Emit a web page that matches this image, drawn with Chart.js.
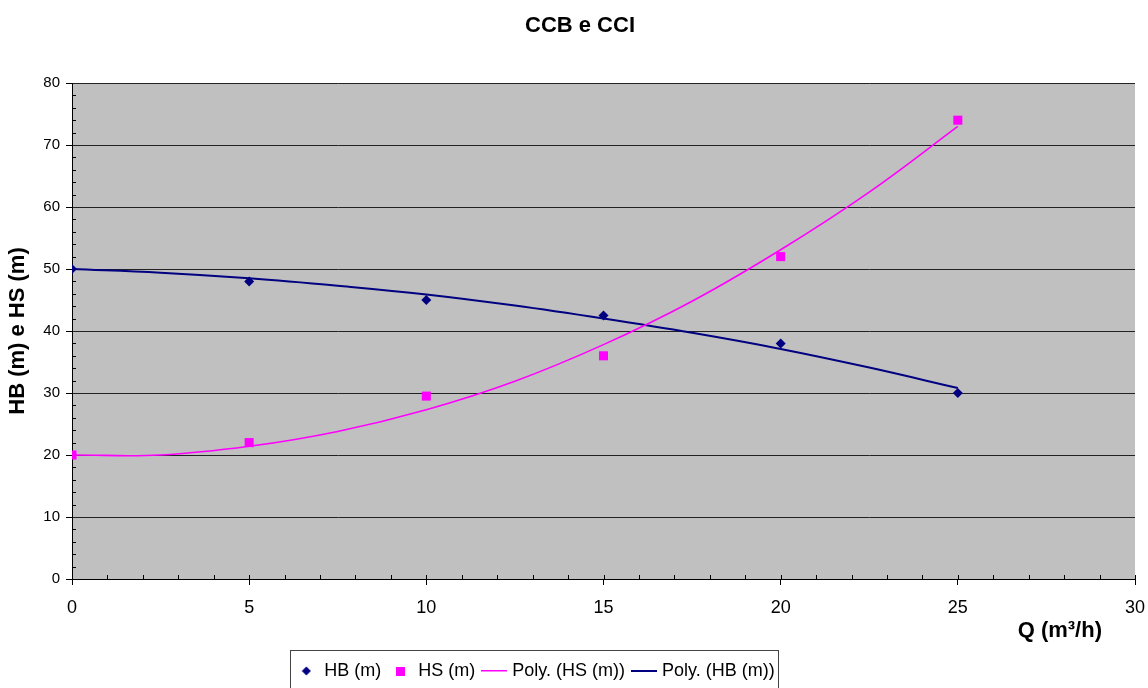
<!DOCTYPE html>
<html><head><meta charset="utf-8">
<script src="https://cdn.jsdelivr.net/npm/chart.js@4.4.1/dist/chart.umd.min.js"></script>
<style>html,body{margin:0;padding:0;background:#fff;}#wrap{width:1148px;height:688px;position:relative;}</style>
</head><body><div id="wrap"><canvas id="c"></canvas></div>
<script>
const chartTitle = 'CCB e CCI';
const xTitle = 'Q (m³/h)';
const yTitle = 'HB (m) e HS (m)';
const seriesNames = ['HB (m)', 'HS (m)', 'Poly. (HS (m))', 'Poly. (HB (m))'];
const flowQ = [0, 5, 10, 15, 20, 25];
const hbValues = [50, 48, 45, 42.5, 38, 30];
const hsValues = [20, 22, 29.5, 36, 52, 74];
const trendQ = [0, 2.5, 5, 7.5, 10, 12.5, 15, 17.5, 20, 22.5, 25];
const hbTrend = [50.0, 49.4, 48.5, 47.3, 45.9, 44.1, 42.0, 39.7, 37.1, 34.1, 30.8];
const hsTrend = [20.0, 20.0, 21.4, 23.8, 27.3, 31.9, 37.8, 44.8, 53.1, 62.4, 73.0];
const xTicks = [0, 5, 10, 15, 20, 25, 30];
const yTicks = [0, 10, 20, 30, 40, 50, 60, 70, 80];

const NAVY = '#000080', MAGENTA = '#FF00FF';
const FONT = "'Liberation Sans', Arial, Helvetica, sans-serif";
Chart.defaults.font.family = FONT;
Chart.defaults.color = '#000';

function icon(w, h, draw) {
  const c = document.createElement('canvas');
  c.width = w; c.height = h;
  draw(c.getContext('2d'));
  return c;
}
const legendIcons = [
  icon(10, 10, g => { g.fillStyle = NAVY; g.beginPath(); g.moveTo(5, 0.5); g.lineTo(9.5, 5); g.lineTo(5, 9.5); g.lineTo(0.5, 5); g.closePath(); g.fill(); }),
  icon(9, 9, g => { g.fillStyle = MAGENTA; g.fillRect(0, 0, 9, 9); }),
  icon(26, 2, g => { g.fillStyle = MAGENTA; g.fillRect(0, 0, 26, 1.5); }),
  icon(26, 2, g => { g.fillStyle = NAVY; g.fillRect(0, 0, 26, 2); })
];

const toPts = (xs, ys) => xs.map((x, i) => ({x: x, y: ys[i]}));

const layoutPlugin = {
  id: 'shiftBoxes',
  afterLayout(chart) {
    const lg = chart.legend;
    if (lg) { lg.left -= 38; lg.right -= 38; lg.top += 2; lg.bottom += 2; }
    const tb = chart.titleBlock;
    if (tb) { tb.left += 6; tb.right += 6; }
  }
};
const bgPlugin = {
  id: 'plotBg',
  beforeDraw(chart) {
    const {ctx, chartArea: a} = chart;
    ctx.save();
    ctx.fillStyle = '#C0C0C0';
    ctx.fillRect(a.left, a.top, a.right - a.left, a.bottom - a.top);
    ctx.restore();
  }
};
const minorPlugin = {
  id: 'minorTicks',
  afterDraw(chart) {
    const {ctx, chartArea: a, scales} = chart;
    ctx.save();
    ctx.strokeStyle = '#000';
    ctx.lineWidth = 1;
    ctx.beginPath();
    for (let v = yTicks[0]; v <= yTicks[yTicks.length - 1]; v += 2) {
      if (v % 10 === 0) continue;
      const p = Math.round(scales.y.getPixelForValue(v)) + 0.5;
      ctx.moveTo(a.left, p); ctx.lineTo(a.left + 4, p);
    }
    for (let v = xTicks[0]; v <= xTicks[xTicks.length - 1]; v += 1) {
      const p = Math.round(scales.x.getPixelForValue(v)) + 0.5;
      ctx.moveTo(p, a.bottom); ctx.lineTo(p, a.bottom - 4);
    }
    ctx.stroke();
    // x axis title, right side under the axis
    ctx.fillStyle = '#000';
    ctx.font = 'bold 22px ' + FONT;
    ctx.textAlign = 'right';
    ctx.textBaseline = 'middle';
    ctx.fillText(xTitle, a.right - 33, a.bottom + 52);
    // legend frame
    const lg = chart.legend;
    if (lg && lg.legendHitBoxes && lg.legendHitBoxes.length) {
      const hb = lg.legendHitBoxes;
      const l = Math.round(hb[0].left - 7) + 0.5;
      const last = hb[hb.length - 1];
      const r = Math.round(last.left + last.width + 3) + 0.5;
      const t = 650.5;
      ctx.strokeStyle = '#444';
      ctx.strokeRect(l, t, r - l, 60);
    }
    ctx.restore();
  }
};

new Chart(document.getElementById('c'), {
  type: 'scatter',
  data: {
    datasets: [
      {label: seriesNames[0], data: toPts(flowQ, hbValues), showLine: false, pointStyle: 'rectRot', pointRadius: 5, borderWidth: 0, backgroundColor: NAVY, borderColor: NAVY},
      {label: seriesNames[1], data: toPts(flowQ, hsValues), showLine: false, pointStyle: 'rect', pointRadius: 6.4, borderWidth: 0, backgroundColor: MAGENTA, borderColor: MAGENTA},
      {label: seriesNames[2], data: toPts(trendQ, hsTrend), showLine: true, pointRadius: 0, borderWidth: 1.6, borderColor: MAGENTA, backgroundColor: MAGENTA, tension: 0.4},
      {label: seriesNames[3], data: toPts(trendQ, hbTrend), showLine: true, pointRadius: 0, borderWidth: 2, borderColor: NAVY, backgroundColor: NAVY, tension: 0.4}
    ]
  },
  options: {
    responsive: true,
    maintainAspectRatio: false,
    animation: false,
    events: [],
    layout: {padding: {left: 0, right: 0, top: 0, bottom: 0}},
    plugins: {
      title: {display: true, text: chartTitle, color: '#000', font: {size: 22, weight: 'bold'}, padding: {top: 13, bottom: 43.6}},
      tooltip: {enabled: false},
      legend: {
        position: 'bottom',
        labels: {
          usePointStyle: true,
          color: '#000',
          font: {size: 18},
          padding: 10,
          generateLabels(chart) {
            const items = Chart.defaults.plugins.legend.labels.generateLabels(chart);
            items.forEach((it, i) => { it.pointStyle = legendIcons[i]; });
            return items;
          }
        }
      }
    },
    scales: {
      x: {
        type: 'linear',
        min: xTicks[0], max: xTicks[xTicks.length - 1],
        ticks: {stepSize: 5, font: {size: 18}, color: '#000', padding: 12},
        grid: {drawOnChartArea: false, drawTicks: true, tickLength: 6, tickColor: '#000'},
        border: {display: true, color: '#000', width: 1},
        afterFit(scale) { scale.height = 71; scale.paddingRight = 13; }
      },
      y: {
        type: 'linear',
        min: yTicks[0], max: yTicks[yTicks.length - 1],
        ticks: {stepSize: 10, font: {size: 15}, color: '#000', padding: 6},
        grid: {color: '#222', lineWidth: 1, drawTicks: true, tickLength: 6, tickColor: '#000'},
        border: {display: true, color: '#000', width: 1},
        title: {display: true, text: yTitle, color: '#000', font: {size: 22, weight: 'bold'}, padding: {top: 5, bottom: 6}},
        afterFit(scale) { scale.width = 72; }
      }
    }
  },
  plugins: [layoutPlugin, bgPlugin, minorPlugin]
});
</script>
</body></html>
